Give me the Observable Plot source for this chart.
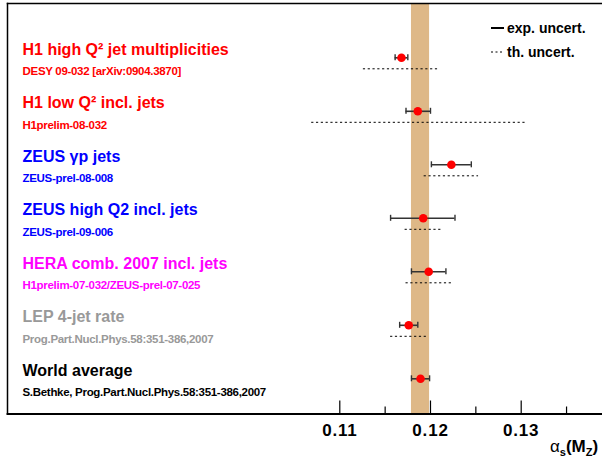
<!DOCTYPE html>
<html><head><meta charset="utf-8">
<script src="https://cdn.jsdelivr.net/npm/d3@7"></script>
<script src="https://cdn.jsdelivr.net/npm/@observablehq/plot@0.6"></script>
<style>
body{margin:0;background:#fff}
#chart svg{display:block;font-family:"Liberation Sans",Arial,Helvetica,sans-serif}
</style>
</head><body><div id="chart"></div>
<script>
// ---- data ----
const titles = ["H1 high Q² jet multiplicities", "H1 low Q² incl. jets", "ZEUS γp jets", "ZEUS high Q2 incl. jets", "HERA comb. 2007 incl. jets", "LEP 4-jet rate", "World average"];
const refs = ["DESY 09-032 [arXiv:0904.3870]", "H1prelim-08-032", "ZEUS-prel-08-008", "ZEUS-prel-09-006", "H1prelim-07-032/ZEUS-prel-07-025", "Prog.Part.Nucl.Phys.58:351-386,2007", "S.Bethke, Prog.Part.Nucl.Phys.58:351-386,2007"];
const colors = ["#ff0000", "#ff0000", "#0000ff", "#0000ff", "#ff00ff", "#999999", "#000000"];
const values = [0.1168, 0.1186, 0.1223, 0.1192, 0.1198, 0.1176, 0.1189];
const expLo = [0.0007, 0.0013, 0.0022, 0.0036, 0.0019, 0.0010, 0.0010];
const expHi = [0.0007, 0.0014, 0.0022, 0.0035, 0.0019, 0.0010, 0.0010];
const thLo = [0.0042, 0.0117, 0.0030, 0.0020, 0.0025, 0.0020, null];
const thHi = [0.0041, 0.0119, 0.0030, 0.0021, 0.0026, 0.0020, null];
const worldAvg = [0.1189];
const worldErr = [0.0010];
const majorTicks = [0.11, 0.12, 0.13];
const minorTicks = [0.115, 0.125, 0.135];
const legendLabels = ["exp. uncert.", "th. uncert."];

// ---- table ----
const rows = values.map((v, i) => ({
  i, v, title: titles[i], ref: refs[i], color: colors[i],
  e1: v - expLo[i], e2: v + expHi[i],
  t1: thLo[i] == null ? null : v - thLo[i],
  t2: thHi[i] == null ? null : v + thHi[i]
}));
const thRows = rows.filter(d => d.t1 != null);
const band = worldAvg.map((w, k) => ({x1: w - worldErr[k], x2: w + worldErr[k]}));

const W = 602, H = 459, mL = 7, mR = 0, mT = 3, mB = 45.5;
const frameH = H - mT - mB;
const font = "Liberation Sans, Arial, Helvetica, sans-serif";

const plot = Plot.plot({
  width: W, height: H,
  marginLeft: mL, marginRight: mR, marginTop: mT, marginBottom: mB,
  style: {fontFamily: font, background: "#fff", overflow: "visible"},
  x: {domain: [0.073363, 0.138964], axis: null},
  y: {domain: [-1.01495, 6.65794], reverse: true, axis: null},
  marks: [
    Plot.rect(band, {x1: "x1", x2: "x2", fill: "#deb887"}),
    Plot.frame({anchor: "top", strokeWidth: 1.5}),
    Plot.frame({anchor: "left", strokeWidth: 1.5}),
    Plot.frame({anchor: "bottom", strokeWidth: 1.8}),
    Plot.tickX(majorTicks, {x: d => d, insetTop: frameH - 13, stroke: "#000", strokeWidth: 1.2}),
    Plot.tickX(minorTicks, {x: d => d, insetTop: frameH - 7, stroke: "#000", strokeWidth: 1.2}),
    Plot.axisX({ticks: majorTicks, tickSize: 0, tickPadding: 10, tickFormat: d3.format(".2f"),
      fontSize: 17, fontWeight: "bold", fill: "#000", label: null}),
    // theory uncertainty (dotted)
    Plot.ruleY(thRows, {x1: "t1", x2: "t2", y: "i", dy: 11, stroke: "#000", strokeWidth: 1, strokeDasharray: "2.2,2.6"}),
    // experimental uncertainty
    Plot.ruleY(rows, {x1: "e1", x2: "e2", y: "i", stroke: "#333", strokeWidth: 1.6}),
    Plot.ruleX(rows, {x: "e1", y1: "i", y2: "i", insetTop: -3, insetBottom: -3, stroke: "#333", strokeWidth: 1.4}),
    Plot.ruleX(rows, {x: "e2", y1: "i", y2: "i", insetTop: -3, insetBottom: -3, stroke: "#333", strokeWidth: 1.4}),
    Plot.dot(rows, {x: "v", y: "i", r: 4.3, fill: "#ff0000", stroke: null}),
    // labels
    Plot.text(rows, {frameAnchor: "left", y: "i", text: "title", fill: "color", dx: 15, dy: -3,
      lineAnchor: "bottom", textAnchor: "start", fontSize: 16, fontWeight: "bold"}),
    Plot.text(rows, {frameAnchor: "left", y: "i", text: "ref", fill: "color", dx: 15, dy: 17.4,
      lineAnchor: "bottom", textAnchor: "start", fontSize: 11.5, fontWeight: "bold", className: "refs"})
  ]
});

const svg = d3.select(plot);
svg.selectAll(".refs text").style("letter-spacing", "-0.3px");
svg.selectAll("[aria-label='x-axis tick label'] text").style("letter-spacing", "0.8px");

// legend
const lg = svg.append("g").attr("font-family", font).attr("font-weight", "bold")
  .attr("font-size", 14).attr("text-anchor", "start");
legendLabels.forEach((lab, k) => {
  const yy = 28 + k * 24;
  lg.append("line").attr("x1", 491).attr("x2", 504).attr("y1", yy).attr("y2", yy)
    .attr("stroke", "#000").attr("stroke-width", k === 0 ? 2 : 1)
    .attr("stroke-dasharray", k === 0 ? null : "2,2.5");
  lg.append("text").attr("x", 507).attr("y", yy + 5).text(lab);
});

// axis title αs(MZ)
const at = svg.append("text").attr("x", 550).attr("y", 452).attr("font-family", font)
  .attr("font-size", 17).attr("fill", "#000").attr("text-anchor", "start");
at.append("tspan").text("α");
at.append("tspan").attr("font-size", 11).attr("font-weight", "bold").attr("dy", 4).text("s");
at.append("tspan").attr("font-weight", "bold").attr("dy", -4).text("(M");
at.append("tspan").attr("font-size", 11).attr("font-weight", "bold").attr("dy", 4).text("Z");
at.append("tspan").attr("font-weight", "bold").attr("dy", -4).text(")");

document.getElementById("chart").appendChild(plot);
</script>
</body></html>
